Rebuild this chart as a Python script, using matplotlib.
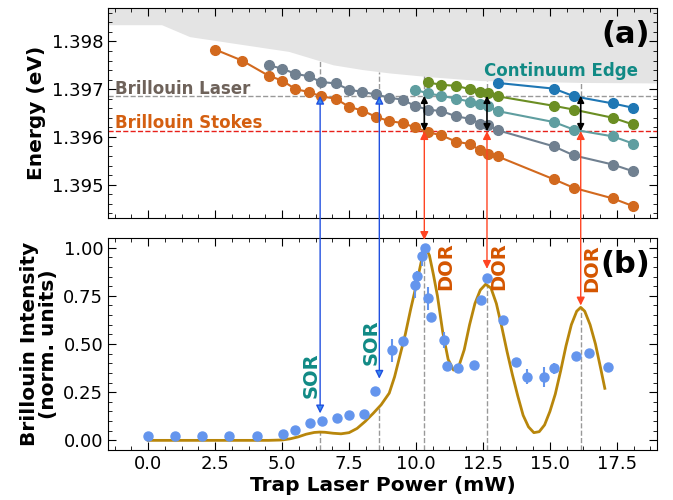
import matplotlib.pyplot as plt
import numpy as np
from matplotlib.patches import ConnectionPatch
from matplotlib.ticker import MultipleLocator

# ---- panel (a): mode energies vs trap power ----
x_orange = [2.5, 3.5, 4.5, 5.0, 5.5, 6.0, 6.45, 7.0, 7.5, 8.0, 8.5, 9.0, 9.5, 9.95,
            10.45, 10.95, 11.5, 12.0, 12.4, 12.7, 13.05, 15.15, 15.9, 17.35, 18.1]
e_orange = [1.39783, 1.39760, 1.39728, 1.39718, 1.39700, 1.39694, 1.39685, 1.39680,
            1.39663, 1.39655, 1.39642, 1.39633, 1.39629, 1.39620, 1.39610, 1.39603,
            1.39590, 1.39585, 1.39572, 1.39565, 1.39559, 1.39511, 1.39493, 1.39471,
            1.39455]

x_slate = [4.5, 5.0, 5.5, 6.0, 6.45, 7.0, 7.5, 8.0, 8.5, 9.0, 9.5, 9.95, 10.45,
           10.95, 11.5, 12.0, 12.4, 12.7, 13.05, 15.15, 15.9, 17.35, 18.1]
e_slate = [1.39750, 1.39743, 1.39732, 1.39727, 1.39715, 1.39712, 1.39699, 1.39694,
           1.39689, 1.39682, 1.39678, 1.39665, 1.39657, 1.39654, 1.39643, 1.39638,
           1.39628, 1.39624, 1.39614, 1.39580, 1.39561, 1.39542, 1.39528]

x_teal = [9.95, 10.45, 10.95, 11.5, 12.0, 12.4, 12.7, 13.05, 15.15, 15.9, 17.35, 18.1]
e_teal = [1.39699, 1.39691, 1.39686, 1.39680, 1.39674, 1.39669, 1.39664, 1.39654,
          1.39631, 1.39615, 1.39601, 1.39586]

x_green = [10.45, 10.95, 11.5, 12.0, 12.4, 12.7, 13.05, 15.15, 15.9, 17.35, 18.1]
e_green = [1.39714, 1.39709, 1.39707, 1.39700, 1.39695, 1.39692, 1.39685, 1.39665,
           1.39657, 1.39640, 1.39626]

x_blue = [13.05, 15.15, 15.9, 17.35, 18.1]
e_blue = [1.39713, 1.39701, 1.39685, 1.39670, 1.39661]

edge_x = [-1.5, 0.5, 1.55, 5.25, 6.9, 8.0, 9.0, 10.5, 12.4, 16.2, 19.0]
edge_y = [1.39835, 1.39835, 1.39810, 1.39779, 1.39751, 1.39741, 1.39734, 1.39726,
          1.39718, 1.39714, 1.39713]

laser_e = 1.39686
stokes_e = 1.39612

# ---- panel (b): Brillouin intensity ----
p_meas = [0.0, 1.0, 2.0, 3.0, 4.05, 5.04, 5.48, 6.04, 6.5, 7.06, 7.5, 8.04, 8.48,
          9.09, 9.5, 9.96, 10.04, 10.22, 10.34, 10.46, 10.56, 11.03, 11.15, 11.56,
          12.16, 12.43, 12.64, 13.26, 13.74, 14.15, 14.77, 15.16, 15.96, 16.45, 17.18]
i_meas = [0.025, 0.022, 0.024, 0.024, 0.025, 0.035, 0.056, 0.092, 0.10, 0.118, 0.134,
          0.139, 0.257, 0.467, 0.517, 0.804, 0.851, 0.955, 0.998, 0.738, 0.639, 0.52,
          0.385, 0.373, 0.39, 0.726, 0.845, 0.625, 0.405, 0.33, 0.33, 0.373, 0.44,
          0.452, 0.379]
i_err = [0.005, 0.005, 0.005, 0.005, 0.005, 0.005, 0.005, 0.005, 0.005, 0.005, 0.005,
         0.005, 0.02, 0.06, 0.01, 0.065, 0.03, 0.05, 0.01, 0.06, 0.01, 0.04, 0.01,
         0.02, 0.01, 0.025, 0.01, 0.01, 0.01, 0.038, 0.052, 0.028, 0.02, 0.01, 0.025]

p_fit = [0.0, 1.0, 2.0, 3.0, 4.0, 4.5, 5.0, 5.3, 5.6, 5.9, 6.2, 6.4, 6.6, 6.9, 7.2,
         7.5, 7.8, 8.1, 8.4, 8.7, 9.0, 9.2, 9.4, 9.6, 9.8, 10.0, 10.2, 10.35, 10.5,
         10.65, 10.8, 11.0, 11.2, 11.4, 11.6, 11.8, 12.0, 12.2, 12.4, 12.6, 12.8,
         13.0, 13.2, 13.4, 13.6, 13.8, 14.0, 14.2, 14.4, 14.6, 14.8, 15.0, 15.2,
         15.4, 15.6, 15.8, 16.0, 16.15, 16.3, 16.5, 16.7, 16.9, 17.05]
i_fit = [0.0, 0.0, 0.0, 0.0, 0.0, 0.0, 0.002, 0.008, 0.018, 0.032, 0.041, 0.043,
         0.042, 0.037, 0.034, 0.040, 0.062, 0.098, 0.14, 0.185, 0.245, 0.33, 0.44,
         0.55, 0.68, 0.80, 0.93, 1.0, 0.96, 0.86, 0.75, 0.56, 0.42, 0.365, 0.385,
         0.47, 0.60, 0.71, 0.78, 0.81, 0.79, 0.71, 0.59, 0.46, 0.34, 0.23, 0.13,
         0.07, 0.04, 0.045, 0.08, 0.15, 0.24, 0.36, 0.49, 0.60, 0.67, 0.69, 0.67,
         0.60, 0.50, 0.37, 0.27]

sor_x = [6.42, 8.63]
sor_tip = [0.14, 0.32]
dor_x = [10.31, 12.65, 16.15]
dor_tip = [1.04, 0.89, 0.70]

fig = plt.figure(figsize=(6.73, 5), dpi=100)
ax1 = fig.add_axes([0.1605, 0.564, 0.8158, 0.42])
ax2 = fig.add_axes([0.1605, 0.10, 0.8158, 0.424], sharex=ax1)

# panel (a)
ax1.fill_between(edge_x, edge_y, 1.3990, color='#e4e4e4', lw=0, zorder=0)
ax1.axhline(laser_e, color='#999999', ls='--', lw=1, zorder=1)
ax1.axhline(stokes_e, color='#e8201a', ls='--', lw=1, zorder=1)
for xs, es, c in [(x_orange, e_orange, '#d2691e'), (x_slate, e_slate, '#708090'),
                  (x_teal, e_teal, '#5f9ea0'), (x_green, e_green, '#6b8e23'),
                  (x_blue, e_blue, '#1f77b4')]:
    ax1.plot(xs, es, 'o-', color=c, ms=7, lw=1.5, zorder=3)

for x in sor_x + dor_x:
    ax1.vlines(x, laser_e, np.interp(x, edge_x, edge_y), color='#999999',
               ls='--', lw=1, zorder=1)
for x in dor_x:
    ax1.annotate('', xy=(x, laser_e), xytext=(x, stokes_e),
                 arrowprops=dict(arrowstyle='<|-|>', color='k', lw=1.2,
                                 shrinkA=0, shrinkB=0, mutation_scale=10), zorder=5)

ax1.text(-1.25, 1.39701, 'Brillouin Laser', color='#6e625a', fontsize=12,
         fontweight='bold', va='center')
ax1.text(-1.25, 1.39628, 'Brillouin Stokes', color='#d45f10', fontsize=12,
         fontweight='bold', va='center')
ax1.text(18.3, 1.39739, 'Continuum Edge', color='#118a85', fontsize=12,
         fontweight='bold', va='center', ha='right')
ax1.text(18.75, 1.39814, '(a)', fontsize=22, fontweight='bold', va='center', ha='right')

ax1.set_ylim(1.3943, 1.3987)
ax1.set_ylabel('Energy (eV)', fontsize=14.5, fontweight='bold')
ax1.yaxis.set_major_locator(MultipleLocator(0.001))
ax1.yaxis.set_minor_locator(MultipleLocator(0.0002))
ax1.tick_params(labelbottom=False)

# panel (b)
ax2.plot(p_fit, i_fit, color='#b8860b', lw=2, zorder=2)
ax2.errorbar(p_meas, i_meas, yerr=i_err, fmt='o', color='#6495ed', ms=6.5,
             elinewidth=1.5, capsize=0, zorder=3)
for x in sor_x + dor_x:
    ax2.vlines(x, -0.05, np.interp(x, p_fit, i_fit), color='#999999', ls='--',
               lw=1, zorder=1)

for x, t in zip(sor_x, sor_tip):
    con = ConnectionPatch(xyA=(x, t), coordsA=ax2.transData,
                          xyB=(x, laser_e), coordsB=ax1.transData,
                          arrowstyle='<|-|>', mutation_scale=12, lw=1,
                          ec='#2050e0', fc='#3a8ef0', shrinkA=0, shrinkB=0, zorder=6)
    fig.add_artist(con)
for x, t in zip(dor_x, dor_tip):
    con = ConnectionPatch(xyA=(x, t), coordsA=ax2.transData,
                          xyB=(x, stokes_e), coordsB=ax1.transData,
                          arrowstyle='<|-|>', mutation_scale=12, lw=1,
                          color='#ff4422', shrinkA=0, shrinkB=0, zorder=6)
    fig.add_artist(con)

ax2.text(6.07, 0.34, 'SOR', color='#118a85', fontsize=14, fontweight='bold',
         rotation=90, ha='center', va='center')
ax2.text(8.31, 0.51, 'SOR', color='#118a85', fontsize=14, fontweight='bold',
         rotation=90, ha='center', va='center')
for x, y in [(11.12, 0.906), (13.1, 0.906), (16.55, 0.896)]:
    ax2.text(x, y, 'DOR', color='#d45500', fontsize=14, fontweight='bold',
             rotation=90, ha='center', va='center')
ax2.text(18.75, 0.912, '(b)', fontsize=22, fontweight='bold', va='center', ha='right')

ax2.set_ylim(-0.05, 1.05)
ax2.set_xlim(-1.5, 19.0)
ax2.yaxis.set_major_locator(MultipleLocator(0.25))
ax2.yaxis.set_minor_locator(MultipleLocator(0.05))
ax2.xaxis.set_major_locator(MultipleLocator(2.5))
ax2.xaxis.set_minor_locator(MultipleLocator(0.625))
ax2.set_xlabel('Trap Laser Power (mW)', fontsize=14.5, fontweight='bold', labelpad=2)
ax2.set_ylabel('Brillouin Intensity\n(norm. units)', fontsize=14.5,
               fontweight='bold', linespacing=1.0)

for ax in (ax1, ax2):
    ax.tick_params(which='both', direction='in', top=True, right=True, labelsize=13)
    ax.tick_params(which='major', length=6)
    ax.tick_params(which='minor', length=3)

fig.savefig('out.png', dpi=100)
